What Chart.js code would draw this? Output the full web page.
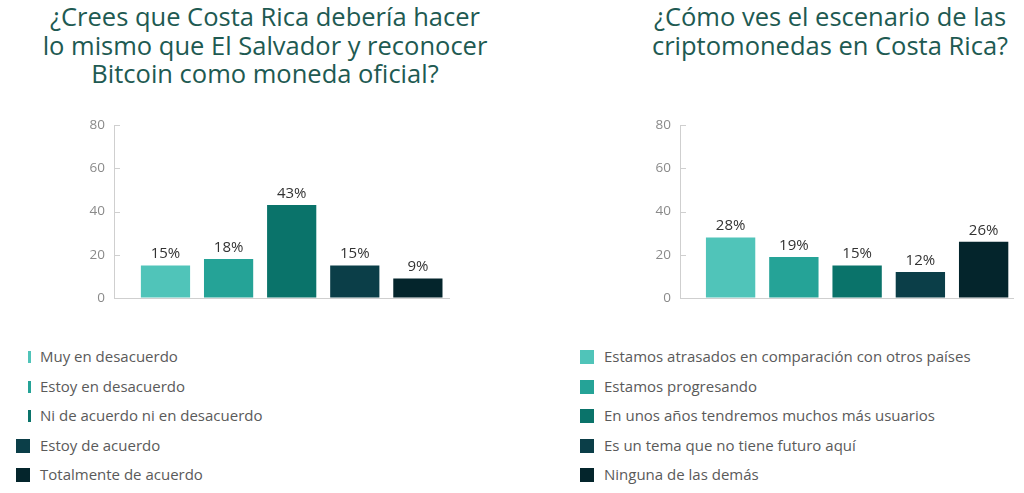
<!DOCTYPE html>
<html><head><meta charset="utf-8">
<script src="https://cdn.jsdelivr.net/npm/chart.js@4.4.0/dist/chart.umd.min.js"></script>
<style>
html,body{margin:0;padding:0;background:#fff;width:1024px;height:493px;overflow:hidden;font-family:'Open Sans',sans-serif;position:relative}
.title{position:absolute;top:2px;text-align:center;color:#1e5a52;font-size:25.5px;line-height:28.5px;white-space:nowrap}
#t1{left:0;width:530px}
#t2{left:630px;width:400px}
canvas{position:absolute;top:100px}
#c1{left:0}
#c2{left:512px}
.legend{position:absolute;top:342px;margin:0;padding:0;list-style:none;color:#5a5a5a;font-size:15px}
.legend li{height:29.6px;line-height:29.6px;position:relative;padding-left:24px;white-space:nowrap}
.legend .mk{position:absolute;left:0;top:8px;width:14px;height:14px}
.legend .mk.thin{left:12px;width:3px;top:9px;height:12px}
#l1{left:16px}
#l2{left:580px}
</style></head>
<body>
<div class="title" id="t1">¿Crees que Costa Rica debería hacer<br>lo mismo que El Salvador y reconocer<br>Bitcoin como moneda oficial?</div>
<div class="title" id="t2">¿Cómo ves el escenario de las<br>criptomonedas en Costa Rica?</div>
<canvas id="c1" width="512" height="220"></canvas>
<canvas id="c2" width="512" height="220"></canvas>
<ul class="legend" id="l1"></ul>
<ul class="legend" id="l2"></ul>
<script>
const q1Categories = ['Muy en desacuerdo','Estoy en desacuerdo','Ni de acuerdo ni en desacuerdo','Estoy de acuerdo','Totalmente de acuerdo'];
const q1Values = [15, 18, 43, 15, 9];
const q2Categories = ['Estamos atrasados en comparación con otros países','Estamos progresando','En unos años tendremos muchos más usuarios','Es un tema que no tiene futuro aquí','Ninguna de las demás'];
const q2Values = [28, 19, 15, 12, 26];
const yTicks = [0, 20, 40, 60, 80];
const palette = ['#50c4b9','#25a397','#0a736a','#0b3e48','#04252c'];

const valueLabels = {
  id: 'valueLabels',
  afterDatasetsDraw(chart) {
    const ctx = chart.ctx, meta = chart.getDatasetMeta(0), ds = chart.data.datasets[0];
    ctx.save();
    ctx.font = '15px "Open Sans"';
    ctx.fillStyle = '#333';
    ctx.textAlign = 'center';
    ctx.textBaseline = 'bottom';
    meta.data.forEach((bar, i) => ctx.fillText(ds.data[i].y + '%', bar.x, bar.y - 4));
    ctx.restore();
  }
};
const innerTicks = {
  id: 'innerTicks',
  afterDraw(chart) {
    const ctx = chart.ctx, ys = chart.scales.y, left = chart.chartArea.left;
    ctx.save();
    ctx.strokeStyle = '#cfcfcf';
    ctx.lineWidth = 1;
    ys.ticks.forEach(t => {
      const py = Math.round(ys.getPixelForValue(t.value)) + 0.5;
      ctx.beginPath(); ctx.moveTo(left, py); ctx.lineTo(left + 6, py); ctx.stroke();
    });
    ctx.restore();
  }
};

function makeChart(id, cats, vals, xmin, xmax, yWidth, padRight) {
  return new Chart(document.getElementById(id), {
    type: 'bar',
    data: {
      datasets: [{
        data: vals.map((v, i) => ({x: i, y: v})),
        backgroundColor: palette,
        categoryPercentage: 1,
        barPercentage: 0.78
      }]
    },
    options: {
      responsive: false,
      animation: false,
      layout: {padding: {top: 25, bottom: 22, right: padRight, left: 0}},
      plugins: {legend: {display: false}, tooltip: {enabled: false}},
      scales: {
        x: {
          type: 'linear', min: xmin, max: xmax, offset: false, display: false,
          afterBuildTicks: s => { s.ticks = cats.map((c, i) => ({value: i})); }
        },
        y: {
          min: 0, max: 80,
          afterBuildTicks: s => { s.ticks = yTicks.map(v => ({value: v})); },
          afterFit: s => { s.width = yWidth; },
          ticks: {color: '#8a8a8a', font: {family: 'Open Sans', size: 13.5}, padding: 9},
          grid: {drawTicks: false, color: c => (c.tick && c.tick.value === 0) ? '#cfcfcf' : 'rgba(0,0,0,0)'},
          border: {display: true, color: '#cfcfcf'}
        }
      }
    },
    plugins: [valueLabels, innerTicks]
  });
}
makeChart('c1', q1Categories, q1Values, -0.816, 4.509, 114, 62);
makeChart('c2', q2Categories, q2Values, -0.80, 4.48, 168, 10);

function makeLegend(id, cats, thinFirst) {
  const ul = document.getElementById(id);
  cats.forEach((c, i) => {
    const li = document.createElement('li');
    const mk = document.createElement('span');
    mk.className = 'mk' + (thinFirst && i < 3 ? ' thin' : '');
    mk.style.background = palette[i];
    li.appendChild(mk);
    li.appendChild(document.createTextNode(c));
    ul.appendChild(li);
  });
}
makeLegend('l1', q1Categories, true);
makeLegend('l2', q2Categories, false);
</script>
</body></html>
